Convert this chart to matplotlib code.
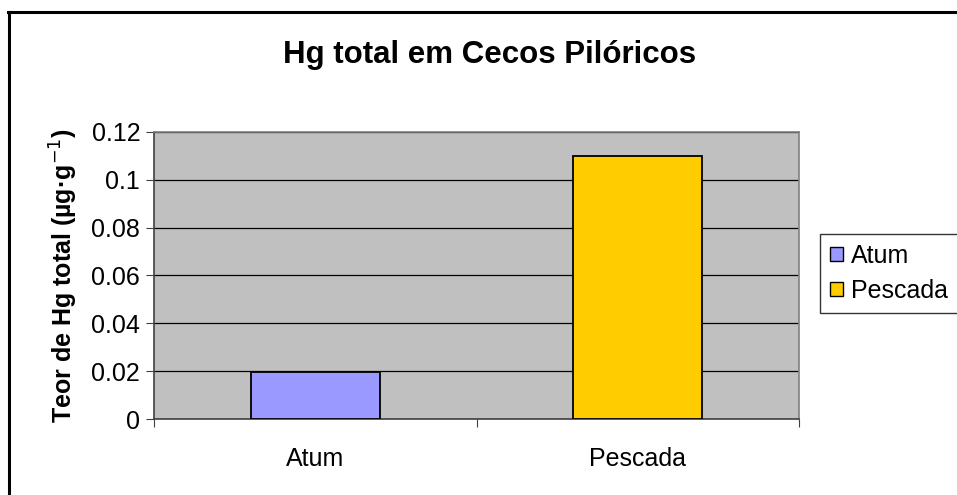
import matplotlib.pyplot as plt
from matplotlib.lines import Line2D
from matplotlib.patches import Patch

# --- data ---
categories = ['Atum', 'Pescada']
hg_values = [0.0195, 0.11]
bar_colors = ['#9999FF', '#FFCC00']
y_ticks = [0, 0.02, 0.04, 0.06, 0.08, 0.1, 0.12]
y_tick_labels = ['0', '0.02', '0.04', '0.06', '0.08', '0.1', '0.12']

plt.rcParams['font.family'] = ['Liberation Sans', 'DejaVu Sans']
FS = 18

fig = plt.figure(figsize=(9.57, 4.95), dpi=100)
ax = fig.add_axes([0.161, 0.1535, 0.674, 0.58])
ax.set_facecolor('#C0C0C0')

x = list(range(len(categories)))
ax.bar(x, hg_values, width=0.4, color=bar_colors, edgecolor='black',
       linewidth=1.3, zorder=3)

# eixos
ax.set_xlim(-0.5, len(categories) - 0.5)
ax.set_ylim(0, 0.12)
ax.set_yticks(y_ticks)
ax.set_yticklabels(y_tick_labels, fontsize=FS)
ax.yaxis.grid(True, color='black', linewidth=0.9, zorder=1)
ax.set_axisbelow(True)

ax.set_xticks([i - 0.5 for i in range(len(categories) + 1)])
ax.set_xticklabels([])
ax.set_xticks(x, minor=True)
ax.set_xticklabels(categories, minor=True, fontsize=FS)
ax.tick_params(axis='x', which='minor', length=0, pad=20)
ax.tick_params(axis='x', which='major', direction='out', length=6, color='#404040')
ax.tick_params(axis='y', direction='out', length=6, color='#404040', pad=4)

for side in ['top', 'right']:
    ax.spines[side].set_color('#808080')
    ax.spines[side].set_linewidth(1.2)
for side in ['left', 'bottom']:
    ax.spines[side].set_color('#404040')
    ax.spines[side].set_linewidth(1.2)

ax.set_ylabel('Teor de Hg total (µg·g$^{-1}$)', fontsize=FS, fontweight='bold',
              labelpad=8)

fig.text(0.512, 0.889, 'Hg total em Cecos Pilóricos', ha='center', va='center',
         fontsize=22.5, fontweight='bold')

# legenda
handles = [Patch(facecolor=c, edgecolor='black', linewidth=1) for c in bar_colors]
fig.legend(handles, categories, loc='upper left', bbox_to_anchor=(0.857, 0.528),
           fontsize=FS, frameon=True, fancybox=False, edgecolor='black',
           handlelength=0.5, handleheight=0.5, handletextpad=0.35,
           borderpad=0.4, labelspacing=0.45, borderaxespad=0)

# moldura externa (lados esquerdo e superior)
fig.add_artist(Line2D([0.0095, 0.0095], [0.0, 0.976], transform=fig.transFigure,
                      color='black', linewidth=2.2))
fig.add_artist(Line2D([0.0085, 1.0], [0.976, 0.976], transform=fig.transFigure,
                      color='black', linewidth=2.2))

fig.savefig('out.png', dpi=100)
